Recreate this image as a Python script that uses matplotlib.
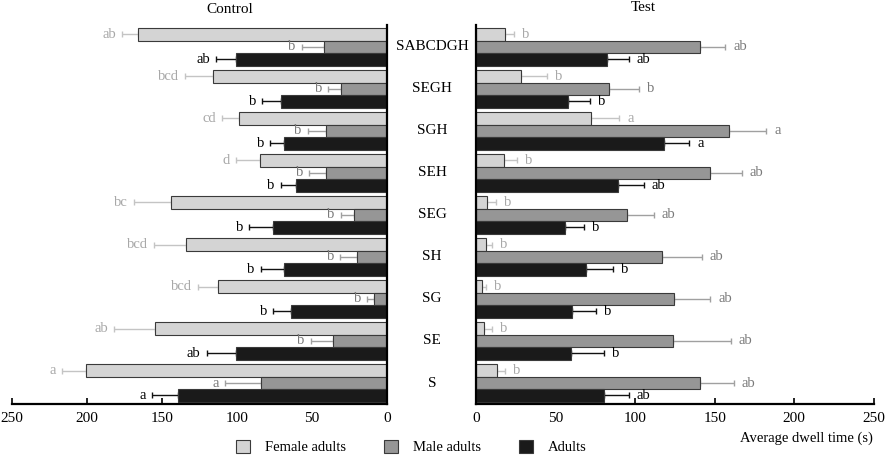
import matplotlib.pyplot as plt
from matplotlib.patches import Patch
from matplotlib.transforms import blended_transform_factory

plt.rcParams['font.family'] = ['Liberation Serif', 'DejaVu Serif']

groups = ["SABCDGH", "SEGH", "SGH", "SEH", "SEG", "SH", "SG", "SE", "S"]

# Control panel (values, errors, letters)
ctrl_female = [166, 116, 99, 85, 144, 134, 113, 155, 201]
ctrl_female_err = [10.5, 18.7, 10.7, 15.8, 25, 21.5, 13, 26.7, 15.7]
ctrl_female_lab = ["ab", "bcd", "cd", "d", "bc", "bcd", "bcd", "ab", "a"]
ctrl_male = [42, 31, 41, 41, 22, 20, 9, 36, 84]
ctrl_male_err = [15, 8.4, 12, 11, 8.9, 11.4, 4.4, 15, 24]
ctrl_male_lab = ["b", "b", "b", "b", "b", "b", "b", "b", "a"]
ctrl_adult = [101, 71, 69, 61, 76, 69, 64, 101, 139.5]
ctrl_adult_err = [13, 12.4, 9, 9.8, 16, 15.2, 11.8, 19.3, 17.4]
ctrl_adult_lab = ["ab", "b", "b", "b", "b", "b", "b", "ab", "a"]

# Test panel
test_female = [18, 28.3, 72.2, 17.4, 6.9, 6.1, 3.6, 5.0, 13]
test_female_err = [5.7, 16.1, 18, 8.4, 5.9, 4.2, 2.5, 5.3, 5.2]
test_female_lab = ["b", "b", "a", "b", "b", "b", "b", "b", "b"]
test_male = [140.5, 83.5, 159.1, 146.8, 95.1, 116.8, 124.2, 123.7, 140.9]
test_male_err = [16.1, 19.1, 23.3, 20.1, 16.5, 25.2, 23, 36.5, 21.2]
test_male_lab = ["ab", "b", "a", "ab", "ab", "ab", "ab", "ab", "ab"]
test_adult = [82.5, 57.6, 118.1, 89.4, 55.9, 68.9, 60.5, 59.9, 80.4]
test_adult_err = [13.4, 13.8, 16.1, 15.9, 12.1, 17.4, 14.7, 20.3, 15.7]
test_adult_lab = ["ab", "b", "a", "ab", "b", "b", "b", "b", "ab"]

fill = ["#d4d4d4", "#969696", "#1a1a1a"]
errc = ["#c4c4c4", "#a0a0a0", "#111111"]
labc = ["#a8a8a8", "#7a7a7a", "#000000"]
names = ["Female adults", "Male adults", "Adults"]

n = len(groups)
centers = [n - 1 - i for i in range(n)]
h = 0.296
offs = [h, 0, -h]

fig = plt.figure(figsize=(8.92, 4.59), dpi=100)
axL = fig.add_axes([0.0135, 0.1198, 0.4204, 0.8257])
axR = fig.add_axes([0.5336, 0.1198, 0.4459, 0.8257])


def draw(ax, series, side):
    for k, (vals, errs, labs) in enumerate(series):
        ys = [c + offs[k] for c in centers]
        ax.barh(ys, vals, height=h, color=fill[k], edgecolor="#3a3a3a", linewidth=0.8, zorder=2)
        ax.errorbar(vals, ys, xerr=[[0] * n, errs], fmt="none", ecolor=errc[k],
                    elinewidth=1.0, capsize=2.2, capthick=1.0, zorder=1)
        for v, e, y, t in zip(vals, errs, ys, labs):
            if side == "L":
                ax.text(v + e + 4, y, t, ha="right", va="center", color=labc[k], fontsize=10.5)
            else:
                ax.text(v + e + 5, y, t, ha="left", va="center", color=labc[k], fontsize=10.5)


draw(axL, [(ctrl_female, ctrl_female_err, ctrl_female_lab),
           (ctrl_male, ctrl_male_err, ctrl_male_lab),
           (ctrl_adult, ctrl_adult_err, ctrl_adult_lab)], "L")
draw(axR, [(test_female, test_female_err, test_female_lab),
           (test_male, test_male_err, test_male_lab),
           (test_adult, test_adult_err, test_adult_lab)], "R")

axL.set_xlim(250, 0)
axR.set_xlim(0, 250)
for ax in (axL, axR):
    ax.set_ylim(-0.5, 8.52)
    ax.set_yticks([])
    ax.set_xticks([0, 50, 100, 150, 200, 250])
    ax.tick_params(axis="x", direction="in", length=4, width=1.2, labelsize=11, pad=6)
    ax.spines["top"].set_visible(False)
    ax.spines["bottom"].set_linewidth(1.6)
    ax.patch.set_alpha(0)
axL.spines["left"].set_visible(False)
axL.spines["right"].set_linewidth(1.6)
axR.spines["right"].set_visible(False)
axR.spines["left"].set_linewidth(1.6)

axL.set_title("Control", fontsize=11, pad=9, x=0.58)
axR.set_title("Test", fontsize=11, pad=10, x=0.42)

tr = blended_transform_factory(fig.transFigure, axR.transData)
for c, g in zip(centers, groups):
    axR.text(0.4843, c, g, transform=tr, ha="center", va="center", fontsize=11)

fig.text(0.979, 0.046, "Average dwell time (s)", ha="right", va="center", fontsize=10.5)

handles = [Patch(facecolor=fill[k], edgecolor="#3a3a3a", linewidth=0.8) for k in range(3)]
fig.legend(handles, names, loc="center", bbox_to_anchor=(0.461, 0.026), ncol=3,
           frameon=False, fontsize=10.5, handlelength=1.0, handleheight=1.0,
           columnspacing=2.6, handletextpad=1.0)

fig.savefig("out.png", dpi=100)
